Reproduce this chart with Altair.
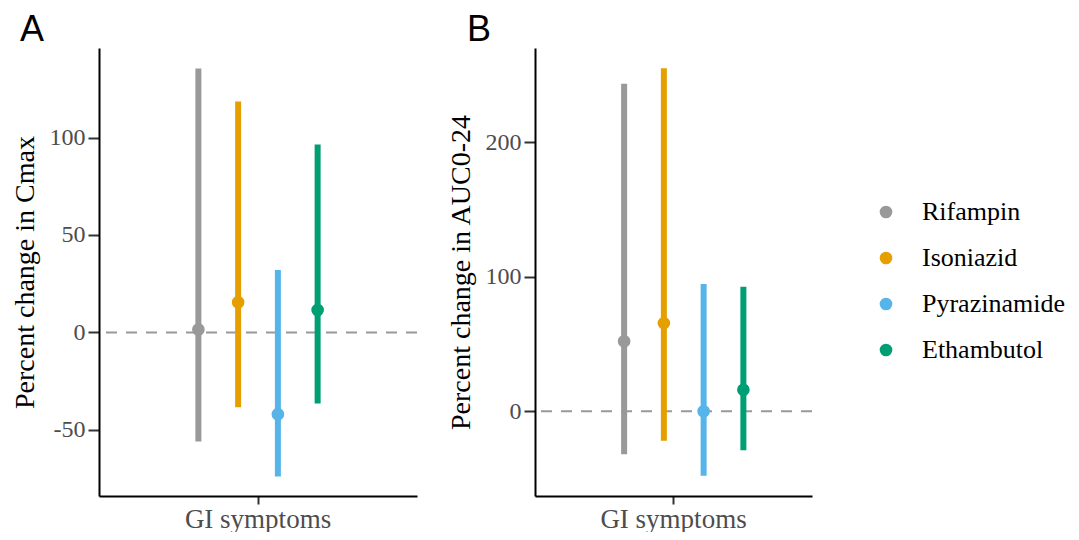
import altair as alt
import pandas as pd

drugs = ["Rifampin", "Isoniazid", "Pyrazinamide", "Ethambutol"]
colors = ["#999999", "#E69F00", "#56B4E9", "#009E73"]
category = "GI symptoms"

cmax_est = [1.5, 15.5, -42, 11.5]
cmax_lo = [-56, -38.5, -74, -36.5]
cmax_hi = [135.5, 118.5, 32, 96.5]

auc_est = [52, 65.5, 0, 16]
auc_lo = [-32, -22, -48, -29]
auc_hi = [243.5, 255, 94.5, 92.5]

SERIF = "Liberation Serif"
YLAB = 24
XLAB = 27
TIT = 28
LEG = 26


def make_df(est, lo, hi):
    return pd.DataFrame({
        "cat": [category] * len(drugs),
        "drug": drugs,
        "est": est,
        "lo": lo,
        "hi": hi,
    })


def panel(df, letter, ytitle, domain, ticks, width, dx):
    x = alt.X("cat:N", type="nominal", title=None,
              scale=alt.Scale(type="band", paddingInner=0, paddingOuter=0.5),
              axis=alt.Axis(labelAngle=0, labelFont=SERIF, labelFontSize=XLAB,
                            labelColor="#4d4d4d", domainColor="black",
                            domainWidth=2, tickColor="#333333", tickWidth=2,
                            tickSize=8, labelPadding=2))
    xo = alt.XOffset("drug:N", sort=drugs,
                     scale=alt.Scale(domain=drugs, paddingInner=0, paddingOuter=0))
    color = alt.Color("drug:N", sort=drugs,
                      scale=alt.Scale(domain=drugs, range=colors),
                      legend=alt.Legend(title=None, orient="none",
                                        legendX=774, legendY=151,
                                        symbolType="circle", symbolSize=160,
                                        symbolStrokeWidth=0,
                                        labelFont=SERIF, labelFontSize=LEG,
                                        labelColor="black", labelOffset=23,
                                        rowPadding=20))
    y_scale = alt.Scale(domain=domain, nice=False, zero=False)
    y_axis = alt.Axis(values=ticks, grid=False, labelFont=SERIF,
                      labelFontSize=YLAB, labelColor="#4d4d4d",
                      labelExpr="replace(datum.label, '\u2212', '-')",
                      titleFont=SERIF, titleFontSize=TIT, titleFontWeight="normal",
                      titleColor="black", domainColor="black", domainWidth=2,
                      tickColor="#333333", tickWidth=2, tickSize=11,
                      labelPadding=3, titlePadding=10)

    zero = alt.Chart(pd.DataFrame({"z": [0]})).mark_rule(
        color="#999999", strokeDash=[11, 9], strokeWidth=2
    ).encode(y=alt.Y("z:Q", scale=y_scale, axis=y_axis, title=ytitle))

    base = alt.Chart(df)
    rules = base.mark_rule(strokeWidth=6).encode(
        x=x, xOffset=xo,
        y=alt.Y("lo:Q", scale=y_scale, axis=y_axis, title=ytitle),
        y2="hi:Q", color=color)
    pts = base.mark_point(filled=True, size=160, opacity=1).encode(
        x=x, xOffset=xo,
        y=alt.Y("est:Q", scale=y_scale, axis=y_axis, title=ytitle),
        color=color)

    return alt.layer(zero, rules, pts).properties(
        width=width, height=448,
        title=alt.TitleParams(letter, anchor="start", font="Liberation Sans",
                              fontSize=36, fontWeight="normal", color="black",
                              offset=-17, dy=-16, frame="bounds", dx=dx))


pa = panel(make_df(cmax_est, cmax_lo, cmax_hi), "A", "Percent change in Cmax",
           [-84, 146], [-50, 0, 50, 100], 318, 9)
pb = panel(make_df(auc_est, auc_lo, auc_hi), "B", "Percent change in AUC0-24",
           [-63, 270], [0, 100, 200], 277, 20)

chart = alt.hconcat(pa, pb, spacing=29).resolve_scale(color="shared").properties(
    padding={"left": 3, "top": 4, "right": 0, "bottom": 0},
    background="white"
).configure_view(
    stroke="transparent", strokeWidth=0
)

chart.save("out.html", embed_options={"renderer": "svg", "actions": False})
